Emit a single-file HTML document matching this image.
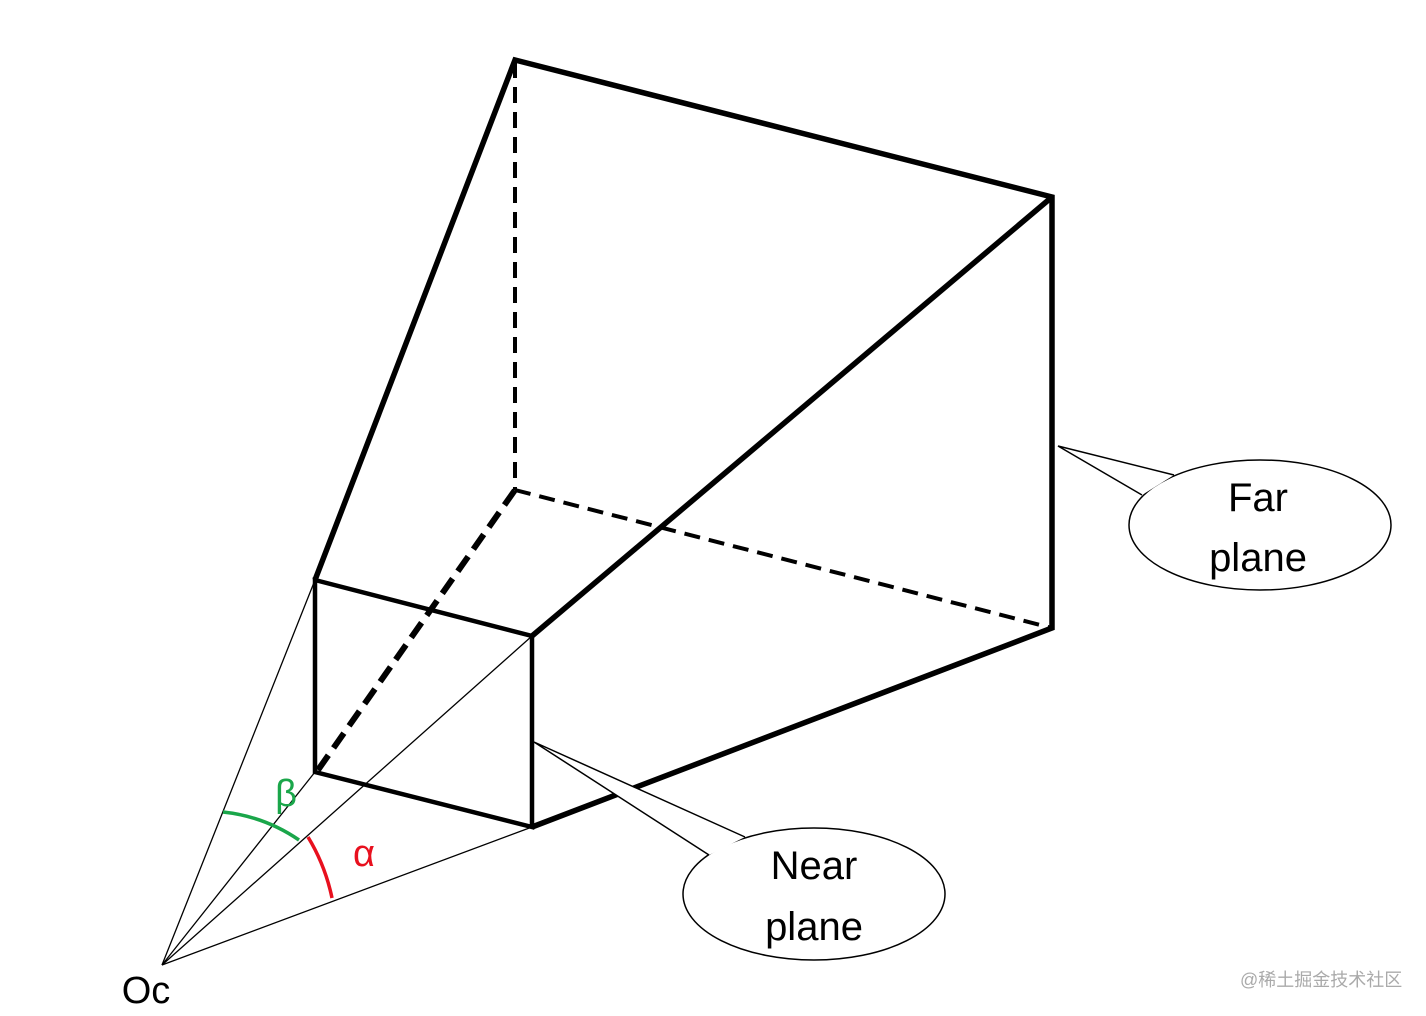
<!DOCTYPE html>
<html><head><meta charset="utf-8"><style>
html,body{margin:0;padding:0;background:#fff;}
svg{display:block;}
</style></head><body>
<svg width="1426" height="1016" viewBox="0 0 1426 1016" xmlns="http://www.w3.org/2000/svg">
<rect width="1426" height="1016" fill="#fff"/>
<g stroke="#000" stroke-width="1.3" fill="none">
<line x1="162" y1="965" x2="315" y2="580"/>
<line x1="162" y1="965" x2="315" y2="772"/>
<line x1="162" y1="965" x2="532" y2="636"/>
<line x1="162" y1="965" x2="532" y2="827"/>
</g>
<g stroke="#000" stroke-width="4" fill="none" stroke-dasharray="16,9">
<line x1="515" y1="62" x2="515" y2="490"/>
<line x1="515" y1="490" x2="1052" y2="628"/>
</g>
<line x1="318" y1="770" x2="515" y2="490" stroke="#000" stroke-width="6" stroke-dasharray="18,9"/>
<g stroke="#000" stroke-width="5.5" fill="none" stroke-linejoin="miter">
<polyline points="315,580 515,60 1052,197 1052,628 532,827"/>
<line x1="532" y1="636" x2="1052" y2="197"/>
<polygon points="315,580 532,636 532,827 315,772" stroke-width="4.5"/>
</g>
<path d="M223,812 A165,165 0 0 1 299,840" stroke="#1aa64a" stroke-width="3.5" fill="none"/>
<path d="M308,837 A193,193 0 0 1 332,898" stroke="#e8101e" stroke-width="3.5" fill="none"/>
<text x="286" y="806" font-family="Liberation Sans, sans-serif" font-size="38" fill="#1aa64a" text-anchor="middle">β</text>
<text x="364" y="866" font-family="Liberation Sans, sans-serif" font-size="38" fill="#e8101e" text-anchor="middle">α</text>
<ellipse cx="1260" cy="525" rx="131" ry="65" fill="#fff" stroke="#000" stroke-width="1.5"/>
<path d="M1174,475 L1058,446 L1142,495" fill="#fff" stroke="#000" stroke-width="1.5"/>
<text x="1258" y="511" font-family="Liberation Sans, sans-serif" font-size="40" text-anchor="middle">Far</text>
<text x="1258" y="571" font-family="Liberation Sans, sans-serif" font-size="40" text-anchor="middle">plane</text>
<ellipse cx="814" cy="894" rx="131" ry="66" fill="#fff" stroke="#000" stroke-width="1.5"/>
<path d="M745,837 L534,742 L709,855" fill="#fff" stroke="#000" stroke-width="1.5"/>
<text x="814" y="879" font-family="Liberation Sans, sans-serif" font-size="40" text-anchor="middle">Near</text>
<text x="814" y="940" font-family="Liberation Sans, sans-serif" font-size="40" text-anchor="middle">plane</text>
<text x="146" y="1003" font-family="Liberation Sans, sans-serif" font-size="38" text-anchor="middle">Oc</text>
<text x="1240" y="986" font-family="Liberation Sans, 'Noto Sans CJK SC', sans-serif" font-size="18" fill="#aaa">@稀土掘金技术社区</text>
</svg>
</body></html>
